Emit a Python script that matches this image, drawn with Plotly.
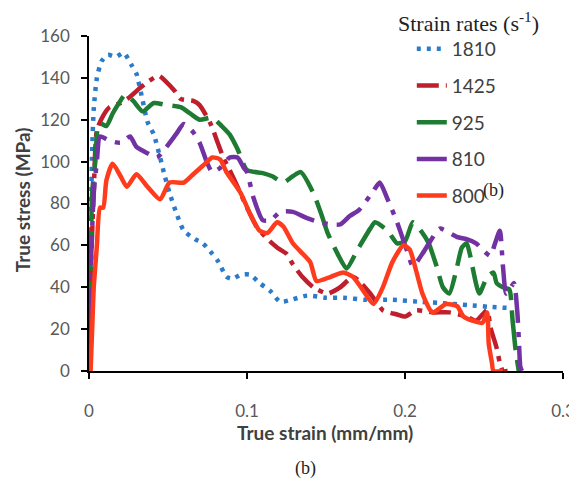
import plotly.graph_objects as go

# ---- data ----
s1810_x = [0, 0.001, 0.002, 0.003, 0.005, 0.008, 0.012, 0.017, 0.022, 0.027, 0.030, 0.034, 0.037, 0.041,
           0.045, 0.048, 0.051, 0.056, 0.060, 0.067, 0.072, 0.078, 0.082, 0.087, 0.091, 0.096, 0.102, 0.108,
           0.115, 0.121, 0.128, 0.138, 0.150, 0.161, 0.175, 0.192, 0.210, 0.222, 0.240, 0.254, 0.268]
s1810_y = [0, 60, 105, 125, 140, 148, 151, 150, 152, 146, 142, 129, 119, 113, 102, 93, 85, 74, 67, 63, 61,
           56, 52, 45, 44, 46, 46, 42, 38, 33, 34, 36, 35, 35, 34, 34, 33, 32.5, 31.5, 30.6, 30]

s1425_x = [0, 0.001, 0.003, 0.005, 0.009, 0.013, 0.020, 0.026, 0.032, 0.037, 0.044, 0.049, 0.054, 0.058,
           0.066, 0.070, 0.077, 0.081, 0.085, 0.089, 0.094, 0.100, 0.106, 0.113, 0.119, 0.125, 0.129, 0.135,
           0.142, 0.151, 0.159, 0.167, 0.171, 0.178, 0.186, 0.195, 0.200, 0.207, 0.218, 0.228, 0.239, 0.245,
           0.252, 0.254, 0.258, 0.260, 0.262, 0.265]
s1425_y = [0, 45, 85, 115, 122, 126, 128, 131, 135, 138, 141, 138, 134, 130, 129, 127, 118, 110, 102, 96,
           88, 78, 69, 63, 59, 56, 51, 45, 40, 37, 40, 45, 43, 37, 29, 27, 26, 29, 28, 28, 26, 24, 29, 21,
           11, 4, 0, 0]

s925_x = [0, 0.001, 0.002, 0.004, 0.006, 0.008, 0.011, 0.015, 0.019, 0.023, 0.028, 0.034, 0.041, 0.049,
          0.058, 0.064, 0.070, 0.078, 0.084, 0.089, 0.094, 0.100, 0.110, 0.116, 0.123, 0.129, 0.134, 0.142,
          0.147, 0.151, 0.158, 0.163, 0.170, 0.178, 0.181, 0.189, 0.195, 0.200, 0.205, 0.211, 0.215, 0.220,
          0.224, 0.228, 0.233, 0.236, 0.239, 0.241, 0.247, 0.252, 0.256, 0.258, 0.262, 0.266, 0.268, 0.270,
          0.272]
s925_y = [0, 50, 85, 100, 118, 118, 117, 123, 128, 132, 129, 124, 128, 127, 126, 123, 120, 121, 117, 113,
          106, 96, 94.5, 93, 90, 93, 95, 85, 75, 66, 55, 49, 58, 68, 71, 67, 61, 62, 71, 66, 61, 50, 40, 37,
          50, 59, 61, 56, 37, 45, 47, 42, 40, 39, 25, 10, 0]

s810_x = [0, 0.001, 0.003, 0.005, 0.007, 0.013, 0.020, 0.026, 0.030, 0.037, 0.043, 0.049, 0.055, 0.060,
          0.066, 0.070, 0.075, 0.078, 0.083, 0.089, 0.094, 0.098, 0.100, 0.104, 0.110, 0.115, 0.121, 0.129,
          0.138, 0.146, 0.153, 0.159, 0.165, 0.171, 0.180, 0.184, 0.189, 0.195, 0.201, 0.205, 0.211, 0.216,
          0.222, 0.233, 0.239, 0.245, 0.249, 0.254, 0.257, 0.260, 0.262, 0.264, 0.267, 0.269, 0.271, 0.272,
          0.273, 0.274]
s810_y = [0, 45, 85, 100, 112, 110, 109, 112, 107, 104, 102, 107, 113, 118, 114, 109, 99, 95, 97, 102, 102,
          97, 95, 83, 72, 72, 76, 76, 73, 71, 70, 70, 74, 77, 86, 90, 82, 71, 58, 50, 56, 62, 68, 64, 63,
          61, 58, 55, 61, 67, 50, 37, 40, 42, 29, 16, 2, 0]

s800_x = [0.001, 0.002, 0.003, 0.004, 0.005, 0.007, 0.009, 0.011, 0.015, 0.020, 0.024, 0.030, 0.037, 0.045,
          0.051, 0.060, 0.066, 0.072, 0.078, 0.083, 0.087, 0.096, 0.102, 0.108, 0.113, 0.119, 0.123, 0.129,
          0.140, 0.144, 0.153, 0.161, 0.167, 0.173, 0.180, 0.186, 0.192, 0.199, 0.203, 0.207, 0.211, 0.216,
          0.218, 0.226, 0.233, 0.237, 0.243, 0.249, 0.252, 0.253, 0.255, 0.256, 0.262]
s800_y = [0, 20, 40, 50, 60, 78, 78, 91, 99, 93, 88, 94, 88, 82, 90, 90, 94, 98, 102, 101, 95, 85, 75, 67,
          66, 71, 69, 61, 52, 43, 45, 47, 45, 39, 32, 40, 52, 60, 58, 48, 37, 29, 28, 32, 31, 26, 24, 23,
          28, 13, 4, 0, 0]

series_names = ["1810", "1425", "925", "810", "800"]
x_ticks = [0, 0.1, 0.2, 0.3]
x_tick_text = ["0", "0.1", "0.2", "0.3"]
y_ticks = [0, 20, 40, 60, 80, 100, 120, 140, 160]

data = [(s1810_x, s1810_y), (s1425_x, s1425_y), (s925_x, s925_y), (s810_x, s810_y), (s800_x, s800_y)]
colors = ["#2B7BCB", "#BF1E2D", "#1E7B32", "#7232A3", "#FF3B1D"]
dashes = ["4px,6px", "22px,7px,5px,7px", "40px,10px", "30px,9px,5px,9px", "solid"]

fig = go.Figure()
for i, ((xs, ys), nm) in enumerate(zip(data, series_names)):
    fig.add_trace(go.Scatter(
        x=xs, y=ys, mode="lines", name=nm, legendgroup=nm,
        line=dict(color=colors[i], width=4.5, dash=dashes[i], shape="spline", smoothing=0.6),
    ))

font_sans = "Lato"
fig.update_layout(
    width=569, height=471,
    margin=dict(l=81, r=14, t=28, b=108),
    paper_bgcolor="white", plot_bgcolor="white",
    showlegend=True,
    legend=dict(x=0.681, y=1.018, xanchor="left", yanchor="top",
                font=dict(family=font_sans, size=19, color="#404040"),
                tracegroupgap=9, bgcolor="rgba(0,0,0,0)", itemwidth=30),
    xaxis=dict(range=[0, 0.3], tickvals=x_ticks, ticktext=x_tick_text, showgrid=False, zeroline=False,
               showline=True, linecolor="black", linewidth=1.5, ticks="outside", ticklen=6,
               tickcolor="black", tickwidth=1.5, ticklabelstandoff=18, automargin=False,
               ticklabeloverflow="allow",
               tickfont=dict(family=font_sans, size=17, color="#595959")),
    yaxis=dict(range=[0, 160], tickvals=y_ticks, showgrid=False, zeroline=False,
               showline=True, linecolor="black", linewidth=1.5, ticks="outside", ticklen=6,
               tickcolor="black", tickwidth=1.5, ticklabelstandoff=8, automargin=False,
               tickfont=dict(family=font_sans, size=17, color="#595959")),
    annotations=[
        dict(text="Strain rates (s<sup>-1</sup>)", xref="paper", yref="paper", x=0.648, y=1.042,
             xanchor="left", yanchor="middle", showarrow=False,
             font=dict(family="Liberation Serif", size=22, color="#222222")),
        dict(text="(b)", xref="paper", yref="paper", x=0.827, y=0.54, xanchor="left", yanchor="middle",
             showarrow=False, font=dict(family="Liberation Serif", size=18, color="#222222")),
        dict(text="(b)", xref="paper", yref="paper", x=0.456, y=-0.29, xanchor="center", yanchor="middle",
             showarrow=False, font=dict(family="Liberation Serif", size=18, color="#222222")),
        dict(text="<b>True stress (MPa)</b>", xref="paper", yref="paper", x=-0.141, y=0.51,
             xanchor="center", yanchor="middle", textangle=-90, showarrow=False,
             font=dict(family=font_sans, size=19, color="#404040")),
        dict(text="<b>True strain (mm/mm)</b>", xref="paper", yref="paper", x=0.498, y=-0.185,
             xanchor="center", yanchor="middle", showarrow=False,
             font=dict(family=font_sans, size=19, color="#404040")),
    ],
)
fig.write_html("out.html")
